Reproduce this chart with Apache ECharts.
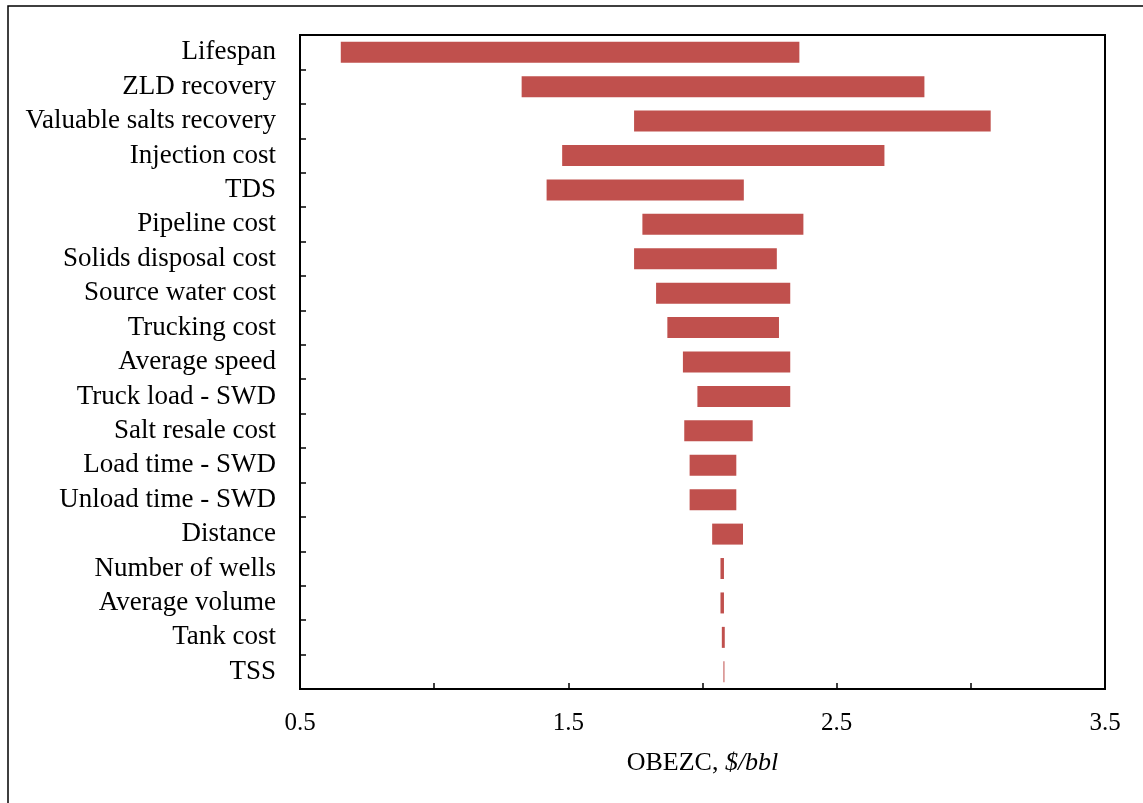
<!DOCTYPE html>
<html>
<head>
<meta charset="utf-8">
<script src="https://cdn.jsdelivr.net/npm/echarts@6/dist/echarts.min.js"></script>
<style>html,body{margin:0;padding:0;background:#fff}#c{width:1143px;height:803px}</style>
</head>
<body>
<div id="c"></div>
<script>
const categories = ["Lifespan","ZLD recovery","Valuable salts recovery","Injection cost","TDS","Pipeline cost","Solids disposal cost","Source water cost","Trucking cost","Average speed","Truck load - SWD","Salt resale cost","Load time - SWD","Unload time - SWD","Distance","Number of wells","Average volume","Tank cost","TSS"];
const lowValues  = [0.652,1.326,1.745,1.477,1.419,1.776,1.745,1.827,1.869,1.927,1.981,1.932,1.952,1.952,2.036,2.067,2.067,2.072,2.078];
const highValues = [2.361,2.827,3.074,2.678,2.154,2.376,2.277,2.327,2.285,2.327,2.327,2.187,2.126,2.126,2.151,2.080,2.080,2.083,2.081];
const xTickLabels = ["0.5","1.5","2.5","3.5"];

const data = categories.map((c, i) => [lowValues[i], highValues[i], i]);
const chart = echarts.init(document.getElementById('c'), null, {renderer: 'canvas'});
const font = '"Liberation Serif", "Times New Roman", serif';
chart.setOption({
  animation: false,
  backgroundColor: '#fff',
  textStyle: {fontFamily: font},
  graphic: [{
    type: 'rect', shape: {x: 8, y: 6, width: 1300, height: 1000},
    style: {fill: 'none', stroke: '#000', lineWidth: 1.5}, silent: true
  }],
  grid: {left: 300, right: 38, top: 35, bottom: 114, show: true, borderColor: '#000', borderWidth: 2, backgroundColor: 'transparent'},
  xAxis: {
    type: 'value', min: 0.5, max: 3.5, interval: 0.5,
    splitLine: {show: false},
    axisLine: {show: true, lineStyle: {color: '#000', width: 2}},
    axisTick: {show: true, inside: true, length: 6, lineStyle: {color: '#000', width: 1.5}},
    axisLabel: {
      color: '#000', fontFamily: font, fontSize: 25, margin: 22,
      formatter: v => { const s = v.toFixed(1); return xTickLabels.includes(s) ? s : ''; }
    },
    name: '{a|OBEZC, }{b|$/bbl}', nameLocation: 'middle', nameGap: 61,
    nameTextStyle: {rich: {
      a: {fontFamily: font, fontSize: 26, color: '#000'},
      b: {fontFamily: font, fontSize: 26, color: '#000', fontStyle: 'italic'}
    }}
  },
  yAxis: {
    type: 'category', data: categories, inverse: true,
    axisLine: {show: true, lineStyle: {color: '#000', width: 2}},
    axisTick: {show: true, inside: true, length: 6, alignWithLabel: false, lineStyle: {color: '#000', width: 1.5}},
    axisLabel: {color: '#000', fontFamily: font, fontSize: 27, margin: 24, interval: 0, padding: [3, 0, 0, 0]},
    splitLine: {show: false}
  },
  series: [{
    type: 'custom',
    encode: {x: [0, 1], y: 2},
    data: data,
    renderItem: function (params, api) {
      const idx = api.value(2);
      const s = api.coord([api.value(0), idx]);
      const e = api.coord([api.value(1), idx]);
      const h = api.size([0, 1])[1] * 0.61;
      return {
        type: 'rect',
        shape: {x: s[0], y: s[1] - h / 2, width: Math.max(e[0] - s[0], 1), height: h},
        style: {fill: '#C0504D'}
      };
    }
  }]
});
</script>
</body>
</html>
